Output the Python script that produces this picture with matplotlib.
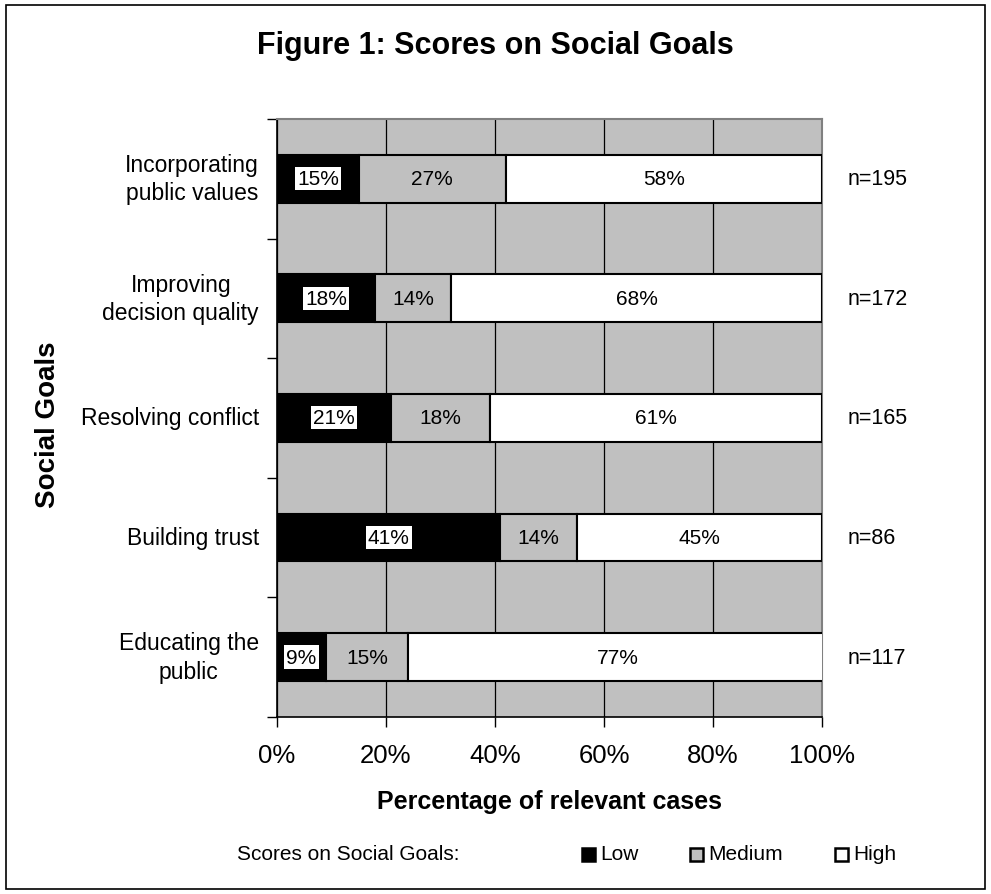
import matplotlib.pyplot as plt
from matplotlib.patches import Rectangle

plt.rcParams['font.family'] = ['Liberation Sans', 'DejaVu Sans']

goals = ["Incorporating\npublic values", "Improving\ndecision quality",
         "Resolving conflict", "Building trust", "Educating the\npublic"]
low = [15, 18, 21, 41, 9]
medium = [27, 14, 18, 14, 15]
high = [58, 68, 61, 45, 77]
n_cases = [195, 172, 165, 86, 117]
xticks = [0, 20, 40, 60, 80, 100]
levels = ["Low", "Medium", "High"]
level_colors = ["black", "#c0c0c0", "white"]

fig = plt.figure(figsize=(9.91, 8.95), dpi=100)
fig.patches.append(Rectangle((0.006, 0.006), 0.988, 0.987, transform=fig.transFigure,
                             fill=False, edgecolor="black", linewidth=1.2))

ax = fig.add_axes([0.2795, 0.198, 0.55, 0.668])
ax.set_facecolor("#c0c0c0")
ypos = list(range(len(goals)))
h = 0.4

ax.barh(ypos, low, height=h, color=level_colors[0], edgecolor="black", linewidth=1.5, zorder=3)
ax.barh(ypos, medium, left=low, height=h, color=level_colors[1], edgecolor="black", linewidth=1.5, zorder=3)
left_high = [a + b for a, b in zip(low, medium)]
ax.barh(ypos, high, left=left_high, height=h, color=level_colors[2], edgecolor="black", linewidth=1.5, zorder=3)

for i in ypos:
    ax.text(low[i] / 2, i, f"{low[i]}%", ha="center", va="center", fontsize=15, zorder=4,
            bbox=dict(facecolor="white", edgecolor="none", pad=1.5))
    ax.text(low[i] + medium[i] / 2, i, f"{medium[i]}%", ha="center", va="center", fontsize=15, zorder=4)
    ax.text(left_high[i] + high[i] / 2, i, f"{high[i]}%", ha="center", va="center", fontsize=15, zorder=4)
    ax.text(104.6, i, f"n={n_cases[i]}", ha="left", va="center", fontsize=15.5, clip_on=False)
    ax.text(-3.3, i, goals[i], ha="right", va="center", multialignment="center",
            fontsize=16.5, linespacing=1.3, clip_on=False)

ax.set_xlim(0, 100)
ax.set_ylim(len(goals) - 0.5, -0.5)
ax.set_xticks(xticks)
ax.set_xticklabels([f"{t}%" for t in xticks], fontsize=18.5)
ax.set_yticks([i - 0.5 for i in range(len(goals) + 1)])
ax.set_yticklabels([])
ax.tick_params(axis="both", direction="out", length=7, width=1)
ax.tick_params(axis="x", pad=12)
ax.grid(axis="x", color="black", linewidth=0.9, zorder=1)
ax.set_axisbelow(True)

for side in ["top", "right"]:
    ax.spines[side].set_color("#808080")
    ax.spines[side].set_linewidth(1.5)
for side in ["left", "bottom"]:
    ax.spines[side].set_color("black")
    ax.spines[side].set_linewidth(1.2)

ax.set_xlabel("Percentage of relevant cases", fontsize=18, fontweight="bold", labelpad=16)
fig.text(0.048, 0.525, "Social Goals", rotation=90, ha="center", va="center",
         fontsize=20, fontweight="bold")
fig.text(0.5, 0.949, "Figure 1: Scores on Social Goals", ha="center", va="center",
         fontsize=22, fontweight="bold")

# legend row along the bottom
leg_y = 1 - 855 / 895
fig.text(237 / 991, leg_y, "Scores on Social Goals:", ha="left", va="center", fontsize=15)
sq_w, sq_h = 13 / 991, 13 / 895
for name, col, x0 in zip(levels, level_colors, [582, 690, 835]):
    fig.patches.append(Rectangle((x0 / 991, leg_y - sq_h / 2), sq_w, sq_h, transform=fig.transFigure,
                                 facecolor=col, edgecolor="black", linewidth=1.8))
    fig.text((x0 + 18) / 991, leg_y, name, ha="left", va="center", fontsize=15)

fig.savefig("out.png", dpi=100)
